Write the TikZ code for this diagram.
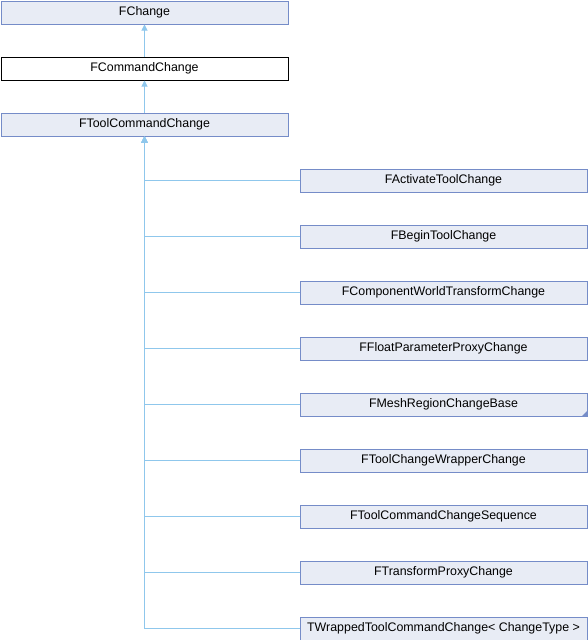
\documentclass[tikz,border=0pt]{standalone}
\usepackage{fontspec}
\setmainfont{Liberation Sans}
\usetikzlibrary{arrows.meta}
\definecolor{boxfill}{RGB}{232,236,245}
\definecolor{boxline}{RGB}{117,140,200}
\definecolor{edge}{RGB}{143,199,236}
\tikzset{
  cls/.style={draw=boxline, fill=boxfill, line width=1pt, minimum width=287pt, minimum height=23pt, inner sep=0pt, font=\fontsize{12.4pt}{14pt}\selectfont, anchor=north west},
  clsw/.style={cls, draw=black, fill=white},
  inh/.style={draw=edge, line width=1pt, -{Triangle[length=6pt,width=6pt,fill=edge]}}
}
\begin{document}
\begin{tikzpicture}[x=1pt,y=-1pt]
\useasboundingbox (0,0) rectangle (588,640);
\node[cls] (fchange) at (0.5,0.5) {FChange};
\node[clsw] (fcmd) at (0.5,56.5) {FCommandChange};
\node[cls] (ftool) at (0.5,112.5) {FToolCommandChange};
\node[cls] (c1) at (299.5,168.5) {FActivateToolChange};
\node[cls] (c2) at (299.5,224.5) {FBeginToolChange};
\node[cls] (c3) at (299.5,280.5) {FComponentWorldTransformChange};
\node[cls] (c4) at (299.5,336.5) {FFloatParameterProxyChange};
\node[cls] (c5) at (299.5,392.5) {FMeshRegionChangeBase};
\node[cls] (c6) at (299.5,448.5) {FToolChangeWrapperChange};
\node[cls] (c7) at (299.5,504.5) {FToolCommandChangeSequence};
\node[cls] (c8) at (299.5,560.5) {FTransformProxyChange};
\node[cls] (c9) at (299.5,616.5) {TWrappedToolCommandChange<\ ChangeType\ >};
\fill[boxline] (c5.south east) -- ++(-6,0) -- ++(6,-6) -- cycle;
\draw[inh] (fcmd.north) -- (fchange.south);
\draw[inh] (ftool.north) -- (fcmd.south);
\foreach \c in {c1,c2,c3,c4,c5,c6,c7,c8,c9}{
  \draw[inh] (\c.west) -| (ftool.south);
}
\end{tikzpicture}
\end{document}
